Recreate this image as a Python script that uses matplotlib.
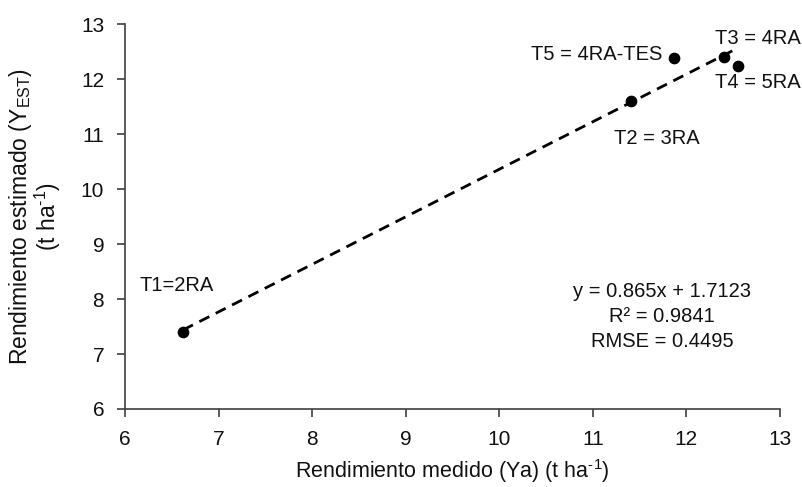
import numpy as np
import matplotlib
matplotlib.use('Agg')
import matplotlib.pyplot as plt

plt.rcParams['font.family'] = ['Liberation Sans', 'DejaVu Sans']
plt.rcParams['mathtext.fontset'] = 'custom'
plt.rcParams['mathtext.rm'] = 'Liberation Sans'
plt.rcParams['mathtext.it'] = 'Liberation Sans:italic'
plt.rcParams['mathtext.default'] = 'regular'

# data
tratamientos = ['T1=2RA', 'T2 = 3RA', 'T3 = 4RA', 'T4 = 5RA', 'T5 = 4RA-TES']
medido = [6.62, 11.41, 12.40, 12.55, 11.87]
estimado = [7.40, 11.60, 12.41, 12.24, 12.39]
pendiente = 0.865
intercepto = 1.7123
r2 = 0.9841
rmse = 0.4495

axis_col = '#404040'
txt_col = '#111111'
fs = 14.5

fig = plt.figure(figsize=(8.02, 4.87), dpi=100)
ax = fig.add_axes([125 / 802, 78 / 487, 655 / 802, 384.7 / 487])

ax.scatter(medido, estimado, s=55, color='black', zorder=3)

xs = np.array([min(medido), max(medido)])
ax.plot(xs, pendiente * xs + intercepto, color='black', lw=2.0,
        dashes=(4, 2.6), zorder=2)

# point labels
offsets = {
    'T1=2RA': (6.16, 8.25, 'left'),
    'T2 = 3RA': (11.23, 10.92, 'left'),
    'T3 = 4RA': (12.31, 12.74, 'left'),
    'T4 = 5RA': (12.31, 11.95, 'left'),
    'T5 = 4RA-TES': (11.74, 12.45, 'right'),
}
for name in tratamientos:
    tx, ty, ha = offsets[name]
    ax.text(tx, ty, name, ha=ha, va='center', fontsize=fs, color=txt_col)

eq = 'y = %.3fx + %.4f\nR² = %.4f\nRMSE = %.4f' % (pendiente, intercepto, r2, rmse)
ax.text(11.74, 7.68, eq, ha='center', va='center', fontsize=fs,
        linespacing=1.4, color=txt_col)

ax.set_xlim(6, 13)
ax.set_ylim(6, 13)
ax.set_xticks(range(6, 14))
ax.set_yticks(range(6, 14))

for side in ['top', 'right']:
    ax.spines[side].set_visible(False)
for side in ['left', 'bottom']:
    ax.spines[side].set_color(axis_col)
    ax.spines[side].set_linewidth(1.2)

ax.tick_params(axis='both', direction='out', length=6, width=1.2,
               color=axis_col, labelsize=15, labelcolor=txt_col, pad=9)

ax.set_xlabel(r'Rendimiento medido (Ya) (t ha$^{\text{-}1}$)', fontsize=15.5, color=txt_col)
ax.xaxis.set_label_coords(0.5, -0.125)
ax.xaxis.label.set_va('top')
ax.set_ylabel('Rendimiento estimado (Y$_{EST}$)\n' + r'(t ha$^{\text{-}1}$)',
              fontsize=16.5, color=txt_col, linespacing=0.95)
ax.yaxis.set_label_coords(-0.095, 0.5)

fig.savefig('out.png', dpi=100)
